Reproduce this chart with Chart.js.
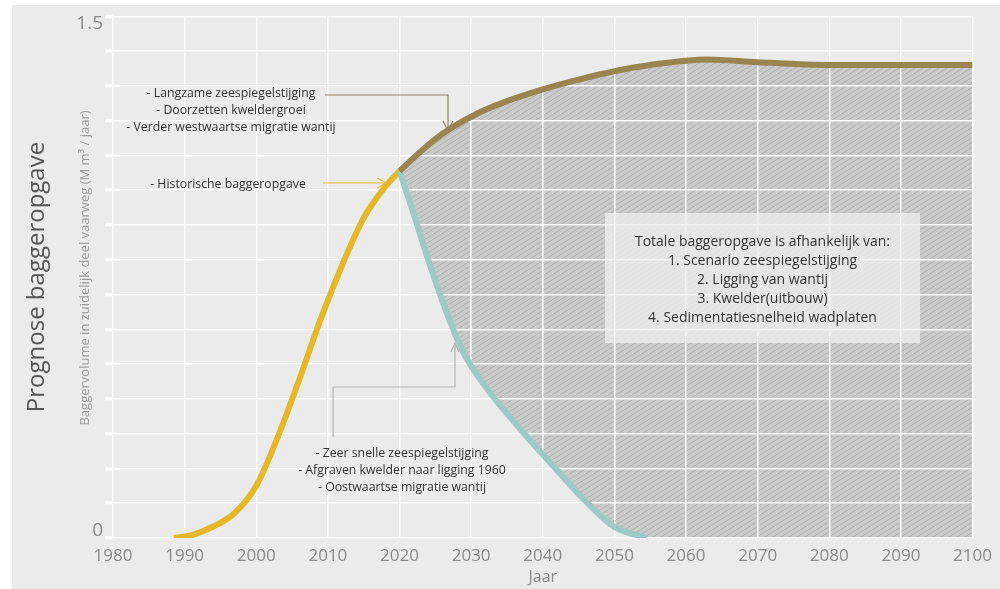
<!DOCTYPE html>
<html>
<head>
<meta charset="utf-8">
<script src="https://cdn.jsdelivr.net/npm/chart.js@4.4.0/dist/chart.umd.min.js"></script>
<style>
  body { margin: 0; background: #fff; font-family: "Open Sans", sans-serif; }
  #wrap { position: relative; width: 1000px; height: 589px; overflow: hidden; }
  #panel { position: absolute; left: 12px; top: 5px; right: 0; bottom: 0; background: #ebebeb; }
  #holder { position: absolute; left: 0; top: 0; width: 1000px; height: 589px; }
  .note { position: absolute; transform: translate(-50%, -50%); text-align: center; color: #333;
          font-size: 12.3px; line-height: 17px; white-space: nowrap; }
  .vt { position: absolute; transform: translate(-50%, -50%) rotate(-90deg); white-space: nowrap; }
  #box { position: absolute; left: 605px; top: 213px; width: 315px; height: 130px;
         background: rgba(238, 238, 238, 0.78); display: flex; align-items: center; justify-content: center;
         text-align: center; color: #333; font-size: 14px; line-height: 19px; }
</style>
</head>
<body>
<div id="wrap">
  <div id="panel"></div>
  <div id="holder"><canvas id="chart"></canvas></div>

  <div class="vt" style="left:34px; top:277px; font-size:24px; color:#555;">Prognose baggeropgave</div>
  <div class="vt" style="left:84px; top:268px; font-size:13px; color:#9a9a9a;">Baggervolume in zuidelijk deel vaarweg (M m³ / jaar)</div>

  <div class="note" style="left:231px; top:109px;">- Langzame zeespiegelstijging<br>- Doorzetten kweldergroei<br>- Verder westwaartse migratie wantij</div>
  <div class="note" style="left:228px; top:183px;">- Historische baggeropgave</div>
  <div class="note" style="left:402px; top:469px;">- Zeer snelle zeespiegelstijging<br>- Afgraven kwelder naar ligging 1960<br>- Oostwaartse migratie wantij</div>

  <div id="box"><div>Totale baggeropgave is afhankelijk van:<br>1. Scenario zeespiegelstijging<br>2. Ligging van wantij<br>3. Kwelder(uitbouw)<br>4. Sedimentatiesnelheid wadplaten</div></div>
</div>

<script>
// historische baggeropgave (M m3/jaar)
const histYears = [1988.5, 1991, 1994, 1997, 2000, 2003, 2006, 2009, 2012, 2015, 2018, 2020];
const histVals  = [0, 0.008, 0.033, 0.072, 0.15, 0.29, 0.455, 0.63, 0.785, 0.92, 1.01, 1.055];

// bovengrens: langzame zeespiegelstijging
const highYears = [2020, 2023, 2026, 2031, 2035, 2040, 2045, 2050, 2055, 2063, 2070, 2080, 2090, 2100];
const highVals  = [1.055, 1.112, 1.162, 1.222, 1.256, 1.29, 1.318, 1.342, 1.36, 1.376, 1.368, 1.36, 1.36, 1.36];

// ondergrens: zeer snelle zeespiegelstijging
const lowYears = [2020, 2022, 2024, 2027, 2029, 2032, 2037, 2042, 2046, 2050, 2054.5];
const lowVals  = [1.055, 0.93, 0.80, 0.625, 0.53, 0.435, 0.31, 0.195, 0.105, 0.032, 0];

// na 2054 loopt de arcering door tot de nullijn
const floorYears = [2056, 2100];
const floorVals  = [0, 0];

const xTicks = { min: 1980, max: 2100, step: 10 };
const yTicks = { min: 0, max: 1.5, step: 0.1 };

const pts = (xs, ys) => xs.map((x, i) => ({ x: x, y: ys[i] }));

function hatch() {
    const c = document.createElement('canvas');
    c.width = 8; c.height = 5;
    const g = c.getContext('2d');
    g.fillStyle = '#cacaca';
    g.fillRect(0, 0, 8, 5);
    g.strokeStyle = '#b1b1b1';
    g.lineWidth = 1;
    for (const dx of [-8, 0, 8]) {
        g.beginPath(); g.moveTo(dx, 5); g.lineTo(dx + 8, 0); g.stroke();
    }
    return g.createPattern(c, 'repeat');
}

// verbindingslijnen van de teksten naar de lijnen
const connectors = {
    id: 'connectors',
    afterDatasetsDraw(chart) {
        const ctx = chart.ctx;
        const lines = [
            { color: '#8d8466', path: [[325, 95], [448, 95], [448, 130]], head: [[443, 121], [448, 131], [453, 121]] },
            { color: '#e2bb3a', path: [[323, 183], [385, 183]], head: [[377, 178], [386, 183], [377, 188]] },
            { color: '#b3b3b3', path: [[333, 437], [333, 387], [455, 387], [455, 344]], head: [[451, 352], [455, 343], [459, 352]] }
        ];
        ctx.save();
        ctx.lineWidth = 1.2;
        lines.forEach(l => {
            ctx.strokeStyle = l.color;
            [l.path, l.head].forEach(p => {
                ctx.beginPath();
                p.forEach((q, i) => i ? ctx.lineTo(q[0], q[1]) : ctx.moveTo(q[0], q[1]));
                ctx.stroke();
            });
        });
        ctx.restore();
    }
};

const gridColor = 'rgba(255,255,255,0.95)';
const tickFont = { family: 'Open Sans', size: 17 };

new Chart(document.getElementById('chart').getContext('2d'), {
    type: 'line',
    data: {
        datasets: [
            {
                label: 'Langzame zeespiegelstijging',
                data: pts(highYears, highVals),
                borderColor: '#9a8450', borderWidth: 6, pointRadius: 0,
                fill: '+1', backgroundColor: hatch(),
                cubicInterpolationMode: 'monotone'
            },
            {
                label: 'ondergrens arcering',
                data: pts(lowYears.concat(floorYears), lowVals.concat(floorVals)),
                borderWidth: 0, borderColor: 'transparent', pointRadius: 0, fill: false,
                cubicInterpolationMode: 'monotone'
            },
            {
                label: 'Zeer snelle zeespiegelstijging',
                data: pts(lowYears, lowVals),
                borderColor: '#9ccbc3', borderWidth: 6, pointRadius: 0, fill: false,
                cubicInterpolationMode: 'monotone'
            },
            {
                label: 'Historische baggeropgave',
                data: pts(histYears, histVals),
                borderColor: '#e5b82a', borderWidth: 6, pointRadius: 0, fill: false,
                cubicInterpolationMode: 'monotone'
            }
        ]
    },
    options: {
        responsive: true,
        maintainAspectRatio: false,
        animation: false,
        layout: { padding: { left: 0, right: 23, top: 16, bottom: 0 } },
        plugins: {
            legend: { display: false },
            tooltip: { enabled: false },
            filler: { drawTime: 'beforeDraw' }
        },
        scales: {
            x: {
                type: 'linear', min: xTicks.min, max: xTicks.max,
                afterFit: s => { s.height = 51; },
                grid: { color: gridColor, lineWidth: 1.5, drawTicks: false },
                border: { display: false },
                ticks: { stepSize: xTicks.step, padding: 8, color: '#8a8a8a', font: tickFont, callback: v => String(v) },
                title: { display: true, text: 'Jaar', color: '#8a8a8a', font: { family: 'Open Sans', size: 16 }, padding: { top: 0, bottom: 2 } }
            },
            y: {
                min: yTicks.min, max: yTicks.max,
                afterFit: s => { s.width = 113; },
                grid: { color: gridColor, lineWidth: 1.5, tickLength: 8, tickColor: '#ffffff', tickWidth: 3 },
                border: { display: false },
                ticks: {
                    stepSize: yTicks.step, padding: 2, color: '#8a8a8a',
                    font: { family: 'Open Sans', size: 19, lineHeight: 0.75 },
                    // alleen 0 en 1.5 tonen, iets binnen het plotvlak geschoven
                    callback: v => {
                        if (Math.abs(v - yTicks.min) < 1e-6) return [String(yTicks.min), ''];
                        if (Math.abs(v - yTicks.max) < 1e-6) return ['', String(yTicks.max)];
                        return '';
                    }
                }
            }
        }
    },
    plugins: [connectors]
});
</script>
</body>
</html>
